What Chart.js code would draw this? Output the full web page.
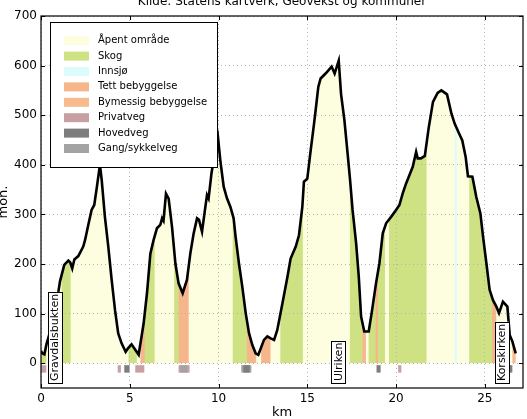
<!DOCTYPE html>
<html>
<head>
<meta charset="utf-8">
<script src="https://cdn.jsdelivr.net/npm/chart.js@4.4.1/dist/chart.umd.min.js"></script>
<style>
  html, body { margin: 0; padding: 0; background: #fff; }
</style>
</head>
<body>
<canvas id="profil" width="527" height="419"></canvas>
<script>
// Høydeprofil: avstand (km) og høyde (moh.)
const profileKm = [
  0.00, 0.07, 0.19, 0.32, 0.60, 0.88, 1.07, 1.31, 1.54, 1.65, 1.76, 1.88, 2.10, 2.38, 2.48, 2.66,
  2.85, 3.00, 3.15, 3.32, 3.42, 3.60, 3.79, 3.98, 4.17, 4.35, 4.54, 4.77, 4.90, 5.10, 5.31, 5.50,
  5.78, 5.97, 6.16, 6.34, 6.53, 6.72, 6.82, 6.90, 7.04, 7.19, 7.38, 7.57, 7.75, 7.98, 8.22, 8.41,
  8.60, 8.79, 8.90, 9.07, 9.22, 9.35, 9.44, 9.60, 9.78, 9.97, 10.10, 10.29, 10.48, 10.67, 10.85, 10.96,
  11.15, 11.34, 11.53, 11.72, 11.90, 12.09, 12.24, 12.35, 12.56, 12.75, 12.94, 13.13, 13.31, 13.60, 13.88, 14.06,
  14.35, 14.53, 14.72, 14.81, 15.00, 15.19, 15.38, 15.47, 15.62, 15.75, 16.03, 16.37, 16.54, 16.77, 16.90, 17.09,
  17.27, 17.41, 17.55, 17.75, 17.90, 18.03, 18.21, 18.46, 18.65, 18.87, 19.06, 19.25, 19.44, 19.72, 20.00, 20.19,
  20.37, 20.56, 20.75, 20.94, 21.13, 21.22, 21.40, 21.62, 21.84, 22.08, 22.34, 22.55, 22.87, 23.12, 23.30, 23.55,
  23.73, 23.92, 24.05, 24.30, 24.52, 24.75, 24.90, 25.09, 25.27, 25.46, 25.65, 25.80, 26.02, 26.27, 26.40, 26.55,
  26.74
];
const profileMoh = [
  25, 20, 18, 40, 74, 121, 165, 198, 207, 203, 191, 209, 216, 235, 248, 278,
  309, 319, 356, 400, 369, 295, 235, 168, 107, 60, 40, 23, 30, 38, 27, 17,
  80, 141, 221, 248, 272, 279, 292, 287, 342, 332, 275, 201, 161, 141, 168, 221,
  262, 292, 289, 265, 305, 339, 332, 382, 423, 455, 409, 356, 332, 315, 292, 255,
  201, 154, 101, 60, 37, 20, 17, 27, 47, 54, 50, 47, 67, 121, 174, 211,
  235, 258, 315, 366, 372, 429, 483, 510, 557, 574, 584, 598, 584, 610, 543, 490,
  423, 369, 309, 242, 174, 94, 64, 64, 107, 161, 201, 262, 282, 295, 309, 319,
  342, 362, 379, 396, 426, 413, 413, 418, 475, 527, 545, 550, 542, 503, 483, 463,
  449, 416, 377, 376, 335, 302, 255, 201, 148, 127, 114, 101, 124, 114, 57, 44,
  20
];

// Kategorier i tegnforklaringen
const categories = ['Åpent område', 'Skog', 'Innsjø', 'Tett bebyggelse', 'Bymessig bebyggelse',
                    'Privatveg', 'Hovedveg', 'Gang/sykkelveg'];
const categoryColors = ['#fdfde0', '#cee283', '#dcfcfc', '#f6b68c', '#f8bb8e',
                        '#c8a0a4', '#7d7d7d', '#a3a3a3'];

// Arealbruk langs profilen: [fra km, til km, kategori]
const landUse = [
  [0.00, 0.30, 1], [0.30, 1.16, 0], [1.16, 1.67, 1], [1.67, 4.93, 0], [4.93, 5.40, 1],
  [5.40, 5.60, 0], [5.60, 5.84, 3], [5.84, 6.40, 1], [6.40, 7.50, 0], [7.50, 7.75, 1],
  [7.75, 8.32, 3], [8.32, 10.80, 0], [10.80, 11.60, 1], [11.60, 12.13, 3], [12.13, 12.40, 0],
  [12.40, 12.93, 3], [12.93, 13.48, 0], [13.48, 14.75, 1], [14.75, 17.40, 0], [17.40, 18.10, 1],
  [18.10, 18.30, 3], [18.30, 18.45, 0], [18.45, 18.85, 1], [18.85, 18.98, 3], [18.98, 19.38, 1],
  [19.38, 19.60, 0], [19.60, 21.72, 1], [21.72, 23.30, 0], [23.30, 23.42, 2], [23.42, 24.12, 0],
  [24.12, 25.40, 1], [25.40, 25.65, 3], [25.65, 26.55, 0], [26.55, 26.74, 4]
];

// Veger som krysses: [fra km, til km, kategori]
const roads = [
  [0.00, 0.30, 5], [4.32, 4.50, 5], [4.69, 4.99, 6], [5.31, 5.82, 5],
  [7.75, 8.37, 5], [7.85, 8.25, 7], [11.28, 11.85, 7], [11.40, 11.75, 6],
  [18.90, 19.13, 6], [20.12, 20.30, 5], [26.30, 26.55, 6]
];
const roadTop = -4;
const roadBottom = -19;

// Stedsnavn
const placeNames = ['Gravdalsbukten', 'Ulriken', 'Korskirken'];
const placeKm = [0.79, 16.74, 25.97];

const xTicks = [0, 5, 10, 15, 20, 25];
const yTicks = [0, 100, 200, 300, 400, 500, 600, 700];

const FONT = '"DejaVu Sans", Arial, sans-serif';

// Tegner arealbruk og veger under gitteret
const backgroundPlugin = {
  id: 'landuse',
  beforeDraw(chart) {
    const { ctx, chartArea: a, scales: { x, y } } = chart;
    const pts = chart.getDatasetMeta(0).data;
    const y0 = y.getPixelForValue(0);

    ctx.save();
    ctx.beginPath();
    ctx.rect(a.left, a.top, a.right - a.left, a.bottom - a.top);
    ctx.clip();

    landUse.forEach(([from, to, cat]) => {
      const x1 = x.getPixelForValue(from);
      const x2 = x.getPixelForValue(to);
      ctx.save();
      ctx.beginPath();
      ctx.rect(x1, a.top, x2 - x1 + 0.4, y0 - a.top);
      ctx.clip();
      ctx.beginPath();
      ctx.moveTo(pts[0].x, y0);
      pts.forEach(p => ctx.lineTo(p.x, p.y));
      ctx.lineTo(pts[pts.length - 1].x, y0);
      ctx.closePath();
      ctx.fillStyle = categoryColors[cat];
      ctx.fill();
      ctx.restore();
    });

    const r1 = y.getPixelForValue(roadTop);
    const r2 = y.getPixelForValue(roadBottom);
    roads.forEach(([from, to, cat]) => {
      const x1 = x.getPixelForValue(from);
      const x2 = x.getPixelForValue(to);
      ctx.fillStyle = categoryColors[cat];
      ctx.fillRect(x1, r1, x2 - x1, r2 - r1);
    });
    ctx.restore();
  }
};

// Ramme, stedsnavn, tegnforklaring og tekster
const overlayPlugin = {
  id: 'overlay',
  afterDraw(chart) {
    const { ctx, chartArea: a, scales: { x, y } } = chart;
    ctx.save();

    // Stedsnavn i bokser
    ctx.font = '11px ' + FONT;
    placeNames.forEach((name, i) => {
      const cx = x.getPixelForValue(placeKm[i]);
      const bottom = y.getPixelForValue(-40);
      const w = ctx.measureText(name).width + 4;
      ctx.fillStyle = '#fff';
      ctx.fillRect(cx - 7, bottom - w, 14, w);
      ctx.strokeStyle = '#000';
      ctx.lineWidth = 1;
      ctx.strokeRect(Math.round(cx - 7) + 0.5, Math.round(bottom - w) + 0.5, 14, Math.round(w));
      ctx.save();
      ctx.translate(cx, bottom - 2);
      ctx.rotate(-Math.PI / 2);
      ctx.fillStyle = '#000';
      ctx.textAlign = 'left';
      ctx.textBaseline = 'middle';
      ctx.fillText(name, 0, 0.5);
      ctx.restore();
    });

    // Ramme rundt plottet
    ctx.strokeStyle = '#000';
    ctx.lineWidth = 1.2;
    ctx.strokeRect(a.left, a.top, a.right - a.left, a.bottom - a.top);

    // Små tikkstreker innover
    ctx.lineWidth = 1;
    xTicks.forEach(v => {
      const px = Math.round(x.getPixelForValue(v)) + 0.5;
      ctx.beginPath();
      ctx.moveTo(px, a.bottom); ctx.lineTo(px, a.bottom - 4);
      ctx.moveTo(px, a.top); ctx.lineTo(px, a.top + 4);
      ctx.stroke();
    });
    yTicks.forEach(v => {
      const py = Math.round(y.getPixelForValue(v)) + 0.5;
      ctx.beginPath();
      ctx.moveTo(a.left, py); ctx.lineTo(a.left + 4, py);
      ctx.moveTo(a.right, py); ctx.lineTo(a.right - 4, py);
      ctx.stroke();
    });

    // Tegnforklaring
    const lx = 50, ly = 22, lw = 167, lh = 145;
    ctx.fillStyle = '#fff';
    ctx.fillRect(lx, ly, lw, lh);
    ctx.strokeStyle = '#000';
    ctx.strokeRect(lx + 0.5, ly + 0.5, lw, lh);
    ctx.font = '10px ' + FONT;
    ctx.textBaseline = 'middle';
    ctx.textAlign = 'left';
    categories.forEach((label, i) => {
      const cy = 40.7 + i * 15.4;
      ctx.fillStyle = categoryColors[i];
      ctx.fillRect(64, cy - 4.5, 25, 9);
      ctx.fillStyle = '#000';
      ctx.fillText(label, 98, cy);
    });

    // Tittel og aksetitler
    ctx.fillStyle = '#000';
    ctx.textAlign = 'center';
    ctx.textBaseline = 'alphabetic';
    ctx.font = '12px ' + FONT;
    ctx.fillText('Kilde: Statens kartverk, Geovekst og kommuner', (a.left + a.right) / 2, 5);
    ctx.font = '13px ' + FONT;
    ctx.fillText('km', (a.left + a.right) / 2, 416);
    ctx.save();
    ctx.translate(4, (a.top + a.bottom) / 2);
    ctx.rotate(-Math.PI / 2);
    ctx.textBaseline = 'middle';
    ctx.fillText('moh.', 0, 0);
    ctx.restore();

    ctx.restore();
  }
};

const ctx = document.getElementById('profil').getContext('2d');
new Chart(ctx, {
  type: 'line',
  data: {
    datasets: [{
      data: profileKm.map((km, i) => ({ x: km, y: profileMoh[i] })),
      borderColor: '#000',
      borderWidth: 2.6,
      pointRadius: 0,
      tension: 0,
      fill: false
    }]
  },
  options: {
    responsive: false,
    animation: false,
    devicePixelRatio: 1,
    layout: { padding: { top: 16, right: 4, left: 0, bottom: 0 } },
    plugins: {
      legend: { display: false },
      tooltip: { enabled: false }
    },
    scales: {
      x: {
        type: 'linear',
        min: 0,
        max: 27.15,
        afterBuildTicks: s => { s.ticks = xTicks.map(v => ({ value: v })); },
        afterFit: s => { s.height = 31; },
        grid: { color: '#b4b4b4', drawTicks: false, lineWidth: 1 },
        border: { display: false, dash: [1, 3] },
        ticks: { color: '#000', font: { family: FONT, size: 12 }, padding: 4, maxRotation: 0 }
      },
      y: {
        min: -50,
        max: 700,
        afterBuildTicks: s => { s.ticks = yTicks.map(v => ({ value: v })); },
        afterFit: s => { s.width = 41; },
        grid: { color: '#b4b4b4', drawTicks: false, lineWidth: 1 },
        border: { display: false, dash: [1, 3] },
        ticks: { color: '#000', font: { family: FONT, size: 12 }, padding: 4 }
      }
    }
  },
  plugins: [backgroundPlugin, overlayPlugin]
});
</script>
</body>
</html>
